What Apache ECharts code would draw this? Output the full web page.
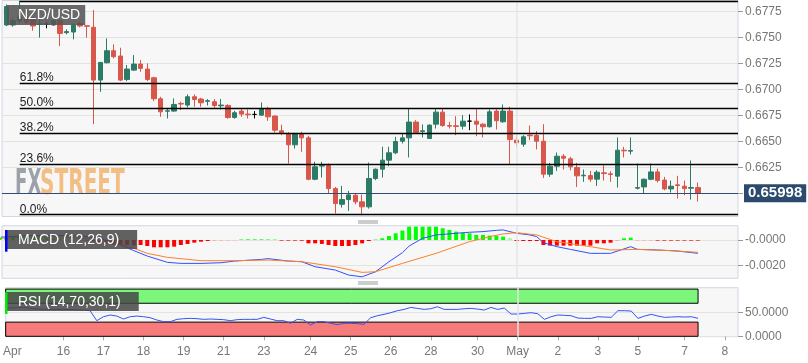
<!DOCTYPE html>
<html><head><meta charset="utf-8">
<script src="https://cdn.jsdelivr.net/npm/echarts@6/dist/echarts.min.js"></script>
<style>html,body{margin:0;padding:0;background:#fff}#c{width:808px;height:363px}</style>
</head><body><div id="c"></div><script>
// ---- candle data (4H), index = candle slot ----
const openP  = [0.67734,0.67622,0.67622,0.67660,0.67700,0.67686,0.67628,0.67630,0.67622,0.67664,0.67548,0.67554,0.67638,0.67615,0.67600,0.67091,0.67258,0.67374,0.67323,0.67097,0.67187,0.67245,0.67197,0.67113,0.66911,0.66791,0.66792,0.66866,0.66850,0.66930,0.66908,0.66886,0.66882,0.66843,0.66846,0.66731,0.66792,0.66763,0.66760,0.66753,0.66814,0.66744,0.66602,0.66576,0.66467,0.66576,0.66534,0.66135,0.66262,0.66267,0.66045,0.65894,0.65939,0.65981,0.65917,0.65869,0.66142,0.66232,0.66319,0.66390,0.66502,0.66534,0.66686,0.66596,0.66528,0.66666,0.66782,0.66653,0.66650,0.66647,0.66695,0.66695,0.66666,0.66641,0.66792,0.66689,0.66792,0.66512,0.66473,0.66560,0.66557,0.66502,0.66184,0.66261,0.66357,0.66332,0.66248,0.66168,0.66171,0.66136,0.66197,0.66187,0.66165,0.66415,0.66406,0.66049,0.66061,0.66135,0.66206,0.66127,0.66042,0.66081,0.66068,0.66049,0.66055];
const closeP = [0.67686,0.67800,0.67664,0.67700,0.67650,0.67612,0.67632,0.67630,0.67664,0.67541,0.67558,0.67622,0.67612,0.67609,0.67091,0.67261,0.67374,0.67316,0.67091,0.67197,0.67245,0.67204,0.67097,0.66911,0.66785,0.66795,0.66856,0.66860,0.66930,0.66904,0.66872,0.66892,0.66846,0.66850,0.66731,0.66776,0.66763,0.66757,0.66760,0.66814,0.66737,0.66608,0.66583,0.66467,0.66576,0.66534,0.66135,0.66255,0.66268,0.66045,0.65901,0.65939,0.65984,0.65917,0.65869,0.66142,0.66232,0.66319,0.66390,0.66499,0.66534,0.66686,0.66586,0.66602,0.66657,0.66782,0.66653,0.66647,0.66644,0.66695,0.66695,0.66666,0.66641,0.66785,0.66699,0.66792,0.66518,0.66486,0.66544,0.66554,0.66502,0.66184,0.66261,0.66357,0.66338,0.66255,0.66168,0.66174,0.66136,0.66203,0.66190,0.66181,0.66415,0.66409,0.66412,0.66055,0.66135,0.66206,0.66123,0.66042,0.66068,0.66075,0.66045,0.66055,0.65998];
const highP  = [0.67750,0.67820,0.67686,0.67855,0.67720,0.67700,0.67686,0.67654,0.67686,0.67676,0.67580,0.67638,0.67654,0.67615,0.67766,0.67265,0.67493,0.67435,0.67403,0.67236,0.67332,0.67284,0.67252,0.67123,0.66930,0.66817,0.66914,0.66882,0.66953,0.66953,0.66920,0.66908,0.66908,0.66908,0.66859,0.66795,0.66814,0.66808,0.66792,0.66875,0.66834,0.66750,0.66660,0.66589,0.66583,0.66592,0.66554,0.66303,0.66303,0.66287,0.66061,0.66071,0.66023,0.66004,0.65988,0.66296,0.66238,0.66448,0.66448,0.66544,0.66576,0.66817,0.66705,0.66663,0.66663,0.66817,0.66817,0.66689,0.66743,0.66753,0.66760,0.66817,0.66673,0.66808,0.66808,0.66856,0.66834,0.66560,0.66560,0.66653,0.66599,0.66666,0.66293,0.66393,0.66377,0.66351,0.66293,0.66229,0.66216,0.66222,0.66271,0.66213,0.66538,0.66448,0.66538,0.66287,0.66142,0.66287,0.66238,0.66158,0.66123,0.66168,0.66123,0.66316,0.66103];
const lowP   = [0.67670,0.67612,0.67606,0.67640,0.67630,0.67567,0.67500,0.67590,0.67612,0.67419,0.67532,0.67483,0.67599,0.67500,0.66666,0.66978,0.67252,0.67300,0.67081,0.67081,0.67178,0.67171,0.67081,0.66888,0.66737,0.66721,0.66785,0.66801,0.66827,0.66834,0.66834,0.66846,0.66824,0.66808,0.66718,0.66718,0.66737,0.66721,0.66721,0.66747,0.66698,0.66586,0.66560,0.66287,0.66431,0.66399,0.66126,0.66126,0.66152,0.65997,0.65804,0.65862,0.65830,0.65894,0.65788,0.65852,0.66126,0.66152,0.66261,0.66377,0.66480,0.66345,0.66576,0.66538,0.66525,0.66624,0.66641,0.66624,0.66560,0.66615,0.66608,0.66550,0.66538,0.66634,0.66615,0.66679,0.66271,0.66448,0.66448,0.66512,0.66422,0.66148,0.66158,0.66216,0.66229,0.66222,0.66061,0.66110,0.66110,0.66071,0.66123,0.66110,0.66055,0.66345,0.66374,0.66036,0.65997,0.66126,0.66103,0.66029,0.66007,0.65949,0.65981,0.65939,0.65920];
const lastPrice = 0.65998;

// ---- Fibonacci retracement (drawn from the high slot) ----
const fibLevels = [0.65796, 0.66282, 0.66581, 0.66823, 0.67065, 0.67850];
const fibNames  = ['0.0%', '23.6%', '38.2%', '50.0%', '61.8%', ''];
const fibStartSlot = 3;

// ---- MACD (12,26,9) ----
const histValues = [0.00020,0.00025,0.00030,0.00030,0.00030,0.00025,0.00020,0.00015,0.00010,0.00005,0.00003,0.00002,-0.00002,-0.00004,-0.00010,-0.00020,-0.00030,-0.00035,-0.00040,-0.00040,-0.00042,-0.00039,-0.00047,-0.00057,-0.00057,-0.00057,-0.00052,-0.00039,-0.00031,-0.00021,-0.00013,-0.00008,-0.00006,-0.00005,-0.00004,-0.00003,0.00004,0.00005,0.00005,0.00005,0.00004,0.00003,-0.00005,-0.00005,-0.00005,-0.00006,-0.00026,-0.00026,-0.00031,-0.00039,-0.00047,-0.00047,-0.00047,-0.00039,-0.00026,-0.00008,0.00008,0.00013,0.00031,0.00052,0.00073,0.00104,0.00104,0.00104,0.00104,0.00104,0.00091,0.00078,0.00065,0.00057,0.00052,0.00039,0.00039,0.00034,0.00031,0.00026,0.00013,-0.00008,-0.00008,-0.00008,-0.00008,-0.00039,-0.00044,-0.00044,-0.00044,-0.00044,-0.00044,-0.00044,-0.00044,-0.00026,-0.00026,-0.00021,-0.00008,0.00013,0.00018,-0.00005,-0.00005,-0.00005,-0.00005,-0.00005,-0.00005,-0.00005,-0.00005,-0.00005,-0.00005];
const histLight  = [32,33,34,35,56,76,92,95,96,97];
const macdSlots  = [0,3,6,9,12,14,16,18,20,22,25,27,30,33,35,39,40,43,45,47,50,52,54,56,58,60,61,63,65,68,70,72,74,75,77,79,80,81,83,85,88,91,94,95,98,101,104];
const macdValues = [0.00021,0.00031,0.00034,0.00034,0.00031,0.00021,-0.00005,-0.00039,-0.00083,-0.00125,-0.00174,-0.00182,-0.00182,-0.00177,-0.00164,-0.00151,-0.00145,-0.00164,-0.00169,-0.00208,-0.00234,-0.00273,-0.00286,-0.00247,-0.00169,-0.00099,-0.00047,0.00013,0.00039,0.00052,0.00060,0.00065,0.00075,0.00078,0.00052,0.00039,0.00026,-0.00021,-0.00052,-0.00073,-0.00104,-0.00104,-0.00052,-0.00073,-0.00078,-0.00086,-0.00104];
const signalSlots  = [0,5,10,14,17,20,22,25,30,35,40,45,50,54,56,60,65,70,73,75,77,80,83,88,91,95,100,104];
const signalValues = [0.00013,0.00026,0.00021,0.00005,-0.00021,-0.00065,-0.00104,-0.00135,-0.00161,-0.00161,-0.00156,-0.00169,-0.00208,-0.00252,-0.00247,-0.00182,-0.00104,-0.00013,0.00026,0.00047,0.00057,0.00039,-0.00013,-0.00052,-0.00078,-0.00073,-0.00083,-0.00096];

// ---- RSI (14) ----
const rsiValues = [59.1,60.0,60.5,61.3,59.5,58.0,57.0,57.5,57.0,57.0,56.5,56.0,55.6,54.2,33.1,41.5,45.1,42.9,36.6,41.5,42.9,41.5,39.4,34.5,31.0,31.0,35.9,37.3,38.0,37.3,35.9,36.6,35.9,35.2,33.1,35.2,35.9,35.9,35.9,40.1,36.6,33.1,33.1,27.5,35.9,34.5,23.9,31.0,31.0,27.5,24.6,27.5,27.5,26.8,25.3,39.4,43.6,46.5,50.0,54.2,57.0,61.2,59.1,57.0,58.4,62.7,57.0,57.0,57.0,58.4,59.1,57.7,55.6,61.2,57.0,59.8,47.2,47.2,48.6,50.0,47.9,35.9,41.5,45.1,44.4,43.6,38.7,38.0,38.0,41.5,40.8,40.1,54.2,54.2,53.5,38.0,42.9,46.5,42.9,40.1,40.8,41.5,40.8,41.5,38.0];
const rsiUpper = 70, rsiLower = 30;

// ---- x axis tick labels ----
const dayLabels = ['Apr','16','17','18','19','21','23','24','25','26','28','30','May','2','3','5','7','8'];
const daySlots  = [1.36,9,15,21,27,33,39,46,52,58,64,71,77,83,89,95,102,108];
const monthSlot = 77;

// ---- y axis tick labels ----
const priceTicks = [0.6600,0.6625,0.6650,0.6675,0.6700,0.6725,0.6750,0.6775];
const macdTicks = [-0.0020, 0.0000];
const rsiTicks = [0, 50];

// ===== layout =====
const xMin = 0.362, xMax = 109.98;
const FONT = '"Liberation Sans", Arial, sans-serif';
const slots = openP.map((_, i) => i);
const candleData = slots.map(i => [i, openP[i], closeP[i], lowP[i], highP[i]]);
const labelMap = {}; daySlots.forEach((s, k) => labelMap[s] = dayLabels[k]);

const panelGrid = (top, height) => ({left: 2, width: 736, top, height, show: true,
  backgroundColor: '#f7f7f7', borderColor: '#d3d5e2', borderWidth: 1});
const xAx = (gi, withLabels) => ({type: 'value', gridIndex: gi, min: xMin, max: xMax,
  axisLine: {show: false}, splitLine: {show: false},
  axisTick: withLabels ? {show: true, customValues: daySlots.slice(1), length: 4, lineStyle: {color: '#aaa'}} : {show: false},
  axisLabel: withLabels ? {show: true, customValues: daySlots, color: '#777', fontSize: 12, fontFamily: FONT, margin: 9,
      formatter: v => labelMap[v] !== undefined ? labelMap[v] : ''} : {show: false}});
const yAx = (gi, min, max, ticks, fmt) => ({type: 'value', gridIndex: gi, position: 'right', min, max, scale: true,
  axisLine: {show: false},
  axisTick: {show: true, customValues: ticks, length: 5, lineStyle: {color: '#999'}},
  axisLabel: {show: true, customValues: ticks, color: '#777', fontSize: 12, fontFamily: FONT, margin: 7, formatter: fmt},
  splitLine: {show: true, lineStyle: {color: '#e3e3e3', width: 1}}});

const monthLine = {silent: true, symbol: 'none', label: {show: false},
  lineStyle: {color: '#e6e6e6', width: 1.5, type: 'solid'}, data: [{xAxis: monthSlot}]};

const fibLines = fibLevels.map((lv, k) => [
  {coord: [fibStartSlot, lv], label: {show: fibNames[k] !== '', formatter: fibNames[k]}},
  {coord: [xMax, lv]}]);

const boxText = {color: '#fff', fontSize: 14, fontWeight: 'normal', fontFamily: FONT};
const sepLines = y => ({type: 'group', x: 358, y, z: 10, children: [0.5, 2.5].map(d => ({type: 'line',
  shape: {x1: 0, y1: d, x2: 20, y2: d}, style: {stroke: '#9a9a9a', lineWidth: 1}}))});

const option = {
  animation: false,
  backgroundColor: '#ffffff',
  title: [
    {text: 'NZD/USD', left: 7, top: 5, backgroundColor: 'rgba(85,85,85,0.88)', padding: [3, 5, 3, 11], textStyle: boxText},
    {text: 'MACD (12,26,9)', left: 5, top: 230, backgroundColor: 'rgba(70,70,70,0.85)', padding: [3, 18, 2, 13], textStyle: boxText},
    {text: 'RSI (14,70,30,1)', left: 5, top: 292, backgroundColor: 'rgba(70,70,70,0.85)', padding: [3, 18, 2, 13], textStyle: boxText}
  ],
  grid: [panelGrid(0.5, 216), panelGrid(225.7, 52.6), panelGrid(287.7, 49)],
  xAxis: [xAx(0, false), xAx(1, false), xAx(2, true)],
  yAxis: [
    yAx(0, 0.65776, 0.67858, priceTicks, v => v.toFixed(4)),
    yAx(1, -0.00298, 0.00111, macdTicks, v => (v <= 0 ? '-' : '') + Math.abs(v).toFixed(4)),
    yAx(2, -0.85, 102.97, rsiTicks, v => v.toFixed(4))
  ],
  graphic: [
    {type: 'text', x: 15, y: 167, z: 1, scaleX: 0.56, silent: true,
      style: {text: 'FX', fill: 'rgba(140,146,156,0.85)', font: 'bold 36px "DejaVu Sans Condensed"', verticalAlign: 'top'}},
    {type: 'text', x: 40, y: 167, z: 1, scaleX: 0.62, silent: true,
      style: {text: 'STREET', fill: 'rgba(242,180,112,0.85)', font: 'bold 36px "DejaVu Sans Condensed"', verticalAlign: 'top'}},
    {type: 'rect', shape: {x: 5, y: 230, width: 2.5, height: 21.7}, style: {fill: '#0000ff'}, z: 10},
    {type: 'rect', shape: {x: 5, y: 292.3, width: 2.5, height: 21.7}, style: {fill: '#00ee00'}, z: 10},
    sepLines(220.5), sepLines(281.5)
  ],
  series: [
    {type: 'candlestick', xAxisIndex: 0, yAxisIndex: 0, barWidth: 5, data: candleData,
      encode: {x: 0, y: [1, 2, 3, 4]},
      itemStyle: {color: '#2b7b67', color0: '#d9564a', borderColor: '#2b7b67', borderColor0: '#d9564a', borderColorDoji: '#000', borderWidth: 1},
      markLine: {silent: true, symbol: 'none', animation: false,
        lineStyle: {color: '#000', width: 1.3, type: 'solid'},
        label: {position: 'insideStartTop', color: '#222', fontSize: 12, fontFamily: FONT, distance: [0, -1]},
        data: [{xAxis: monthSlot, lineStyle: {color: '#e6e6e6', width: 1.5}, label: {show: false}}].concat(fibLines, [
          {yAxis: lastPrice, lineStyle: {color: '#2f4d74', width: 1.2}, label: {show: true, position: 'end', formatter: '0.65998',
            backgroundColor: '#2b4a6e', color: '#fff', fontWeight: 'bold', fontSize: 15, fontFamily: FONT, padding: [2, 4, 1, 4], distance: 6}}
        ])}
    },
    {type: 'bar', xAxisIndex: 1, yAxisIndex: 1, barWidth: 4,
      data: histValues.map((v, i) => ({value: [i, v], itemStyle: {color: v >= 0
        ? (histLight.includes(i) ? '#9cf79c' : '#00ff00')
        : (histLight.includes(i) ? '#f7a8a8' : '#ff0000')}})),
      markLine: monthLine},
    {type: 'line', xAxisIndex: 1, yAxisIndex: 1, showSymbol: false, lineStyle: {color: '#2e50ff', width: 1},
      data: macdSlots.map((s, k) => [s, macdValues[k]])},
    {type: 'line', xAxisIndex: 1, yAxisIndex: 1, showSymbol: false, lineStyle: {color: '#ff7f27', width: 1},
      data: signalSlots.map((s, k) => [s, signalValues[k]])},
    {type: 'line', xAxisIndex: 2, yAxisIndex: 2, showSymbol: false, lineStyle: {color: '#3355ee', width: 1},
      data: rsiValues.map((v, i) => [i, v]),
      markArea: {silent: true, data: [
        [{xAxis: xMin, yAxis: rsiUpper, itemStyle: {color: '#7cf77c', borderColor: '#000', borderWidth: 1}}, {xAxis: slots.length - 1, yAxis: 100}],
        [{xAxis: xMin, yAxis: 0, itemStyle: {color: '#f87b7b', borderColor: '#000', borderWidth: 1}}, {xAxis: slots.length - 1, yAxis: rsiLower}]
      ]},
      markLine: monthLine}
  ]
};
const chart = echarts.init(document.getElementById('c'), null, {renderer: 'canvas'});
chart.setOption(option);
</script></body></html>
